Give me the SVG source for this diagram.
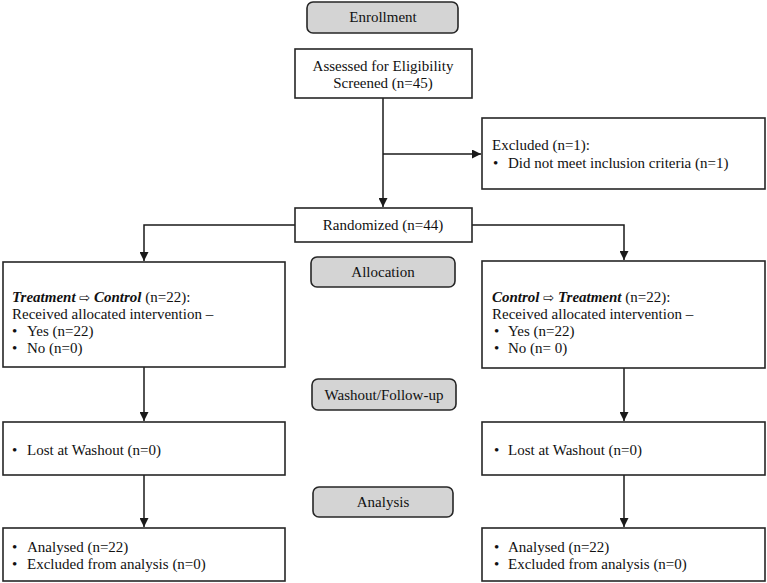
<svg xmlns="http://www.w3.org/2000/svg" width="767" height="583" viewBox="0 0 767 583">
<style>
text{font-family:"Liberation Serif","Times New Roman",serif;font-size:15px;fill:#111}
.box{fill:#fff;stroke:#262626;stroke-width:1.6}
.stage{fill:#d4d4d4;stroke:#262626;stroke-width:1.6}
.c{text-anchor:middle}
.ln{fill:none;stroke:#1a1a1a;stroke-width:1.5}
.bi{font-weight:bold;font-style:italic}
.ar{font-family:"DejaVu Sans",sans-serif;font-weight:normal;font-style:normal;font-size:13px}
</style>
<defs>
<marker id="ah" viewBox="0 0 10 10" refX="10" refY="5" markerWidth="9" markerHeight="9" markerUnits="userSpaceOnUse" orient="auto">
<path d="M0,0 L10,5 L0,10 Z" fill="#1a1a1a"/>
</marker>
</defs>
<rect width="767" height="583" fill="#fff"/>
<g id="connectors">
<path class="ln" d="M383,98 V207" marker-end="url(#ah)"/>
<path class="ln" d="M383,154 H481" marker-end="url(#ah)"/>
<path class="ln" d="M295,225 H144 V261" marker-end="url(#ah)"/>
<path class="ln" d="M472,225 H624 V260" marker-end="url(#ah)"/>
<path class="ln" d="M144,367 V421" marker-end="url(#ah)"/>
<path class="ln" d="M624,368 V421" marker-end="url(#ah)"/>
<path class="ln" d="M144,475 V527" marker-end="url(#ah)"/>
<path class="ln" d="M624,475 V527" marker-end="url(#ah)"/>
</g>
<g id="enrollment">
<rect class="stage" x="307" y="2" width="151" height="31" rx="6"/>
<text class="c" x="383" y="22">Enrollment</text>
</g>
<g id="assessed">
<rect class="box" x="295" y="49" width="177" height="49"/>
<text class="c" x="383" y="71">Assessed for Eligibility</text>
<text class="c" x="383" y="88">Screened (n=45)</text>
</g>
<g id="excluded">
<rect class="box" x="482" y="118" width="283" height="71"/>
<text x="492" y="150">Excluded (n=1):</text>
<text x="493" y="168">•</text>
<text x="508" y="168">Did not meet inclusion criteria  (n=1)</text>
</g>
<g id="randomized">
<rect class="box" x="295" y="208" width="177" height="34"/>
<text class="c" x="383" y="230">Randomized (n=44)</text>
</g>
<g id="allocation">
<rect class="stage" x="311" y="257" width="144" height="30" rx="6"/>
<text class="c" x="383" y="277">Allocation</text>
</g>
<g id="left-arm">
<rect class="box" x="3" y="262" width="282" height="105"/>
<text x="12" y="302"><tspan class="bi">Treatment </tspan><tspan class="ar">⇨</tspan><tspan class="bi"> Control</tspan> (n=22):</text>
<text x="12" y="319">Received allocated intervention –</text>
<text x="12" y="336">•</text><text x="27" y="336">Yes (n=22)</text>
<text x="12" y="353">•</text><text x="27" y="353">No (n=0)</text>
</g>
<g id="right-arm">
<rect class="box" x="482" y="261" width="283" height="107"/>
<text x="492" y="302"><tspan class="bi">Control </tspan><tspan class="ar">⇨</tspan><tspan class="bi"> Treatment</tspan> (n=22):</text>
<text x="492" y="319">Received allocated intervention –</text>
<text x="494" y="336">•</text><text x="508" y="336">Yes (n=22)</text>
<text x="494" y="353">•</text><text x="508" y="353">No (n= 0)</text>
</g>
<g id="washout">
<rect class="stage" x="312" y="379" width="144" height="31" rx="6"/>
<text class="c" x="384" y="400">Washout/Follow-up</text>
</g>
<g id="left-lost">
<rect class="box" x="3" y="422" width="282" height="53"/>
<text x="12" y="455">•</text><text x="27" y="455">Lost at Washout (n=0)</text>
</g>
<g id="right-lost">
<rect class="box" x="482" y="422" width="283" height="53"/>
<text x="494" y="455">•</text><text x="508" y="455">Lost at Washout (n=0)</text>
</g>
<g id="analysis">
<rect class="stage" x="313" y="487" width="140" height="30" rx="6"/>
<text class="c" x="383" y="507">Analysis</text>
</g>
<g id="left-analysed">
<rect class="box" x="3" y="528" width="282" height="53"/>
<text x="12" y="552">•</text><text x="27" y="552">Analysed (n=22)</text>
<text x="12" y="569">•</text><text x="27" y="569">Excluded from analysis (n=0)</text>
</g>
<g id="right-analysed">
<rect class="box" x="482" y="528" width="283" height="53"/>
<text x="494" y="552">•</text><text x="508" y="552">Analysed (n=22)</text>
<text x="494" y="569">•</text><text x="508" y="569">Excluded from analysis (n=0)</text>
</g>
</svg>
